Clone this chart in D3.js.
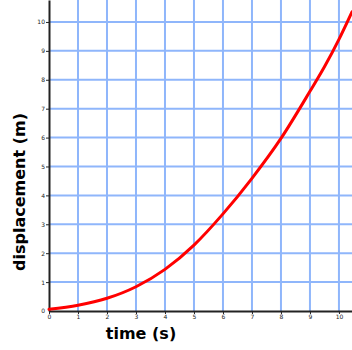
<!DOCTYPE html>
<html>
<head>
<meta charset="utf-8">
<script src="https://cdn.jsdelivr.net/npm/d3@7"></script>
<style>
  body { margin: 0; background: #fff; }
  svg { display: block; }
</style>
</head>
<body>
<svg id="chart" width="352" height="350"></svg>
<script>
// values
const times = [0, 1, 2, 3, 4, 5, 6, 7, 8, 9, 9.5, 10, 10.45];
const displacement = [0.06, 0.2, 0.44, 0.84, 1.44, 2.28, 3.36, 4.59, 5.97, 7.6, 8.45, 9.4, 10.35];
const xTicks = [0, 1, 2, 3, 4, 5, 6, 7, 8, 9, 10];
const yTicks = [0, 1, 2, 3, 4, 5, 6, 7, 8, 9, 10];

const svg = d3.select("#chart");
const margin = {left: 49, top: 0, right: 0, bottom: 39};
const width = 352 - margin.left - margin.right;
const height = 350 - margin.top - margin.bottom;

const x = d3.scaleLinear().domain([0, 10.45]).range([0, width]);
const y = d3.scaleLinear().domain([0, 10.76]).range([height, 0]);

const g = svg.append("g").attr("transform", "translate(" + margin.left + "," + margin.top + ")");

// grid lines
g.selectAll("line.vgrid")
    .data(xTicks.slice(1)).enter()
    .append("line")
        .attr("x1", d => x(d)).attr("x2", d => x(d))
        .attr("y1", 0).attr("y2", height)
        .style("stroke", "#8fb6fb")
        .style("stroke-width", 2);

g.selectAll("line.hgrid")
    .data(yTicks.slice(1)).enter()
    .append("line")
        .attr("x1", 0).attr("x2", width)
        .attr("y1", d => y(d)).attr("y2", d => y(d))
        .style("stroke", "#8fb6fb")
        .style("stroke-width", 2);

// axes
const xAxis = g.append("g")
    .attr("transform", "translate(0," + height + ")")
    .call(d3.axisBottom(x).tickValues(xTicks).tickSize(3).tickPadding(1).tickSizeOuter(0));
const yAxis = g.append("g")
    .call(d3.axisLeft(y).tickValues(yTicks).tickSize(3).tickPadding(1).tickSizeOuter(0));

[xAxis, yAxis].forEach(a => {
    a.select(".domain").style("stroke", "#222").style("stroke-width", 2);
    a.selectAll(".tick line").style("stroke", "#222");
    a.selectAll(".tick text")
        .style("font-family", "DejaVu Sans, sans-serif")
        .style("font-size", "6px")
        .style("fill", "#222");
});
yAxis.selectAll(".tick").filter(d => d === 0).select("line").remove();

// the curve
g.append("path")
    .datum(times.map((t, i) => [t, displacement[i]]))
    .attr("d", d3.line().x(d => x(d[0])).y(d => y(d[1])).curve(d3.curveMonotoneX))
    .style("fill", "none")
    .style("stroke", "#ff0000")
    .style("stroke-width", 3)
    .style("stroke-linecap", "round");

// axis titles
svg.append("text")
    .attr("x", 141).attr("y", 339)
    .attr("text-anchor", "middle")
    .style("font-family", "DejaVu Sans, sans-serif")
    .style("font-weight", "bold")
    .style("font-size", "16px")
    .text("time (s)");

svg.append("text")
    .attr("transform", "translate(25,192) rotate(-90)")
    .attr("text-anchor", "middle")
    .style("font-family", "DejaVu Sans, sans-serif")
    .style("font-weight", "bold")
    .style("font-size", "16px")
    .text("displacement (m)");
</script>
</body>
</html>
